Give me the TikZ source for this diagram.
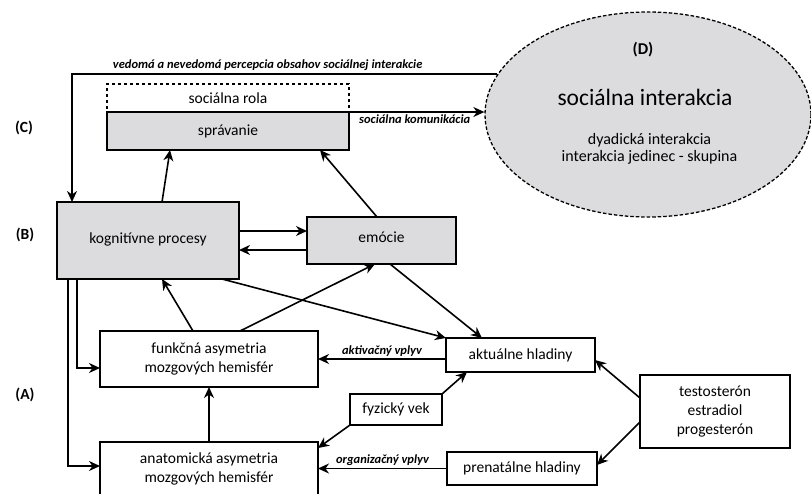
\documentclass[tikz,border=0pt]{standalone}
\usepackage{fontspec}
\setmainfont{Carlito}
\usetikzlibrary{arrows.meta,positioning,shapes.geometric}
\definecolor{boxgray}{RGB}{220,220,223}

\begin{document}
\begin{tikzpicture}[
  x=1pt, y=-1pt,
  font=\fontsize{15.5}{19}\selectfont,
  box/.style={
    draw,
    line width=1.3pt,
    align=center,
    inner sep=2pt,
    outer sep=0pt
  },
  graybox/.style={box, fill=boxgray},
  arrow/.style={-{Stealth[length=11pt,width=10pt,inset=3.5pt]}, line width=1.6pt},
  lbl/.style={font=\fontsize{12.5}{15}\selectfont\bfseries\itshape, inner sep=2pt},
  level/.style={font=\fontsize{15.5}{18}\selectfont\bfseries}
]
\useasboundingbox (0,0) rectangle (811,493);

% (D) social interaction
\node[ellipse, draw, line width=1.3pt, dash pattern=on 3.5pt off 2pt, fill=boxgray,
  minimum width=326pt, minimum height=205pt, inner sep=0pt] (inter) at (648,114.5) {};
\node[level, font=\fontsize{16.5}{19}\selectfont\bfseries] (dlabel) at (643,50) {(D)};
\node[font=\fontsize{23.5}{27}\selectfont] (intertitle) at (645,97) {sociálna interakcia};
\node[align=center, font=\fontsize{16}{17}\selectfont] (intersub) at (649.5,148.5) {dyadická interakcia\\interakcia jedinec - skupina};

% levels
\node[level] (lvlC) at (24,128) {(C)};
\node[level] (lvlB) at (25,235) {(B)};
\node[level] (lvlA) at (25,395) {(A)};

% boxes
\node[box, dashed, minimum width=242pt, minimum height=28pt] (rola) at (228,98) {sociálna rola};
\node[graybox, minimum width=242pt, minimum height=38pt, below=0pt of rola] (sprav) {\raisebox{2pt}{správanie}};
\node[graybox, minimum width=182pt, minimum height=77pt] (kog) at (148,240.5) {\raisebox{5pt}{kognitívne procesy}};
\node[graybox, minimum width=149pt, minimum height=47pt] (emo) at (381.5,240.5) {\raisebox{7pt}{emócie}};
\node[box, minimum width=218pt, minimum height=56pt] (funk) at (209,359) {funkčná asymetria\\mozgových hemisfér};
\node[box, minimum width=218pt, minimum height=53pt] (anat) at (209,468.5) {anatomická asymetria\\mozgových hemisfér};
\node[box, minimum width=149pt, minimum height=34pt] (akt) at (520.5,355) {aktuálne hladiny};
\node[box, minimum width=92pt, minimum height=31pt] (fyz) at (396,409.5) {fyzický vek};
\node[box, minimum width=150pt, minimum height=33pt] (pren) at (522,468.5) {prenatálne hladiny};
\node[box, minimum width=150pt, minimum height=73pt] (horm) at (715,411.5) {testosterón\\estradiol\\progesterón};

% connectors
\draw[arrow] (inter.165) -| node[lbl, above, pos=0.27, yshift=1pt] {vedomá a nevedomá percepcia obsahov sociálnej interakcie} ([xshift=15pt]kog.north west);
\draw[arrow] (sprav.north east) -- (sprav.north east -| inter.west) node[lbl, below, midway, xshift=-2pt] {sociálna komunikácia};
\draw[arrow] ([xshift=14pt]kog.north) -- ([xshift=-58pt]sprav.south);
\draw[arrow] ([xshift=-4.5pt]emo.north) -- ([xshift=92pt]sprav.south);
\draw[arrow] ([yshift=9.5pt]kog.east) -- ([yshift=9.5pt]kog.east -| emo.west);
\draw[arrow] ([yshift=-9.5pt]emo.west) -- ([yshift=-9.5pt]emo.west -| kog.east);
\draw[arrow] ([xshift=20pt]kog.south west) |- ([yshift=-9pt]funk.west);
\draw[arrow] ([xshift=11pt]kog.south west) |- ([yshift=2.5pt]anat.west);
\draw[arrow] (anat.north) -- (funk.south);
\draw[arrow] ([xshift=-16pt]funk.north) -- ([xshift=14pt]kog.south);
\draw[arrow] ([xshift=31pt]funk.north) -- ([xshift=-6.5pt]emo.south);
\draw[arrow] ([xshift=-17pt]kog.south east) -- (akt.north west);
\draw[arrow] ([xshift=8.5pt]emo.south) -- ([xshift=-38.5pt]akt.north);
\draw[arrow] ([yshift=-4pt]akt.west) -- ([yshift=-4pt]akt.west -| funk.east) node[lbl, above, midway] {aktivačný vplyv};
\draw[arrow] (fyz.north east) -- ([xshift=-53.5pt]akt.south);
\draw[arrow] (fyz.south west) -- ([yshift=-6pt]anat.north east);
\draw[arrow] (pren.west) -- (pren.west -| anat.east) node[lbl, above, midway] {organizačný vplyv};
\draw[arrow] ([yshift=13.5pt]horm.west) -- ([yshift=-5pt]akt.east);
\draw[arrow] ([yshift=-10.5pt]horm.west) -- ([yshift=3.5pt]pren.east);

\end{tikzpicture}
\end{document}
